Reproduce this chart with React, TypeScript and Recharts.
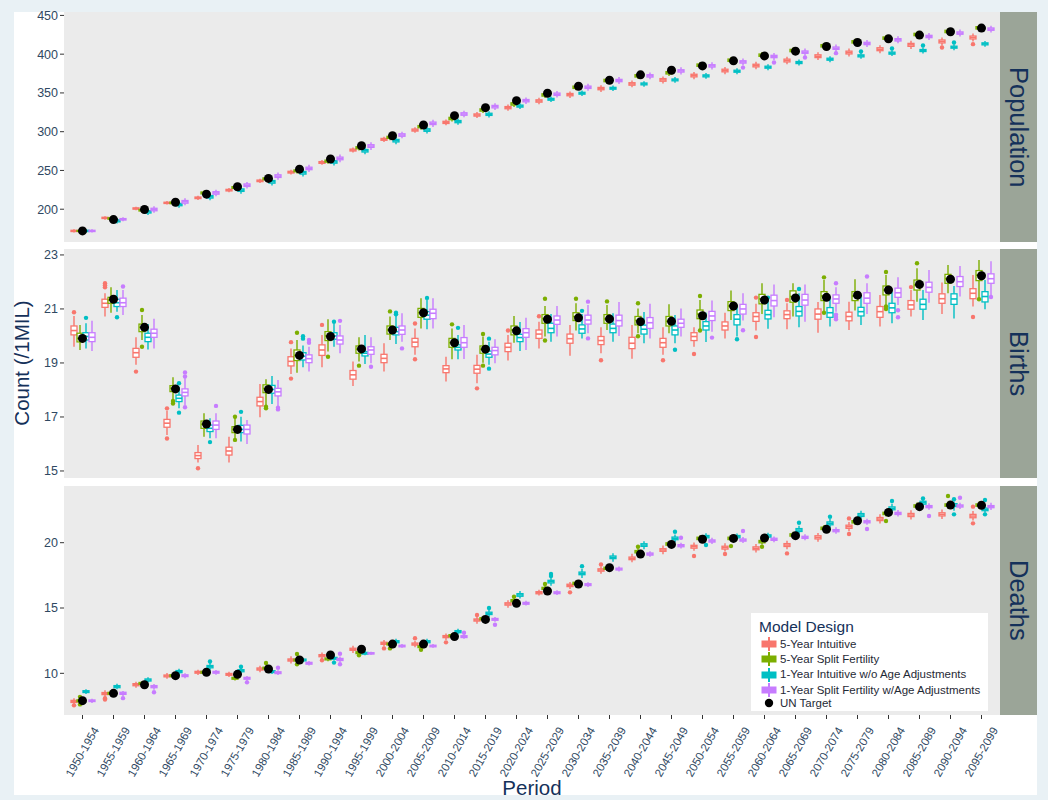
import React from 'react';
import { ComposedChart, Bar, Line, XAxis, YAxis } from 'recharts';

// Box statistics per period: [lower whisker, Q1, median, Q3, upper whisker]
type Box = [number, number, number, number, number];
// Outlier: [period index, value]
type Outlier = [number, number];

const periods = [
  '1950-1954', '1955-1959', '1960-1964', '1965-1969', '1970-1974', '1975-1979',
  '1980-1984', '1985-1989', '1990-1994', '1995-1999', '2000-2004', '2005-2009',
  '2010-2014', '2015-2019', '2020-2024', '2025-2029', '2030-2034', '2035-2039',
  '2040-2044', '2045-2049', '2050-2054', '2055-2059', '2060-2064', '2065-2069',
  '2070-2074', '2075-2079', '2080-2084', '2085-2089', '2090-2094', '2095-2099',
];

const modelNames = [
  '5-Year Intuitive',
  '5-Year Split Fertility',
  '1-Year Intuitive w/o Age Adjustments',
  '1-Year Split Fertility w/Age Adjustments',
];
const modelColors = ['#F8766D', '#7CAE00', '#00BFC4', '#C77CFF'];

// ---------------- Population ----------------
const popTarget = [172, 186.6, 199.6, 209, 219.4, 228.9, 239.7, 251.7, 264.7, 281.9, 294.8, 308.6, 320.7, 331, 340,
  349.6, 358.6, 366.4, 373.3, 379.3, 384.9, 391.4, 397.8, 403.9, 409.9, 415, 419.8, 424.6, 428.9, 433.6];

const popIntuitive5: Box[] = [
  [170, 171.2, 172, 172.8, 174], [186.5, 188, 188.8, 189.6, 191], [198.6, 200.1, 200.9, 201.7, 203.2],
  [206, 207.4, 208.2, 209, 210.5], [212, 213.7, 214.7, 215.7, 217.4], [221.8, 223.6, 224.6, 225.6, 227.4],
  [233.8, 235.6, 236.6, 237.6, 239.4], [244.8, 246.7, 247.8, 248.9, 250.8], [257.2, 259.2, 260.3, 261.4, 263.4],
  [273, 275.1, 276.3, 277.5, 279.6], [286.7, 288.9, 290.1, 291.3, 293.5], [298.6, 300.8, 302.1, 303.4, 305.6],
  [308.3, 310.6, 312, 313.4, 315.7], [317.7, 320.1, 321.5, 322.9, 325.3], [327, 329.6, 331, 332.4, 335],
  [335.5, 338.1, 339.6, 341.1, 343.7], [343.6, 346.3, 347.8, 349.3, 352], [351.3, 354.1, 355.6, 357.1, 359.9],
  [357.2, 360, 361.6, 363.2, 366], [362.3, 365.1, 366.8, 368.5, 371.3], [367.8, 370.7, 372.4, 374.1, 377],
  [374.2, 377.2, 378.9, 380.6, 383.6], [380.5, 383.6, 385.3, 387, 390.1], [386.9, 390, 391.8, 393.6, 396.7],
  [392.4, 395.6, 397.4, 399.2, 402.4], [397, 400.3, 402.1, 403.9, 407.2], [401.2, 404.5, 406.4, 408.3, 411.6],
  [406.8, 410.1, 412, 413.9, 417.2], [411.2, 414.5, 416.4, 418.3, 421.6], [416.3, 419.6, 421.5, 423.4, 426.7],
];
const popSplit5: Box[] = [
  [170.5, 171.4, 172, 172.6, 173.5], [185.5, 187.1, 188, 188.9, 190.5], [196, 197.7, 198.7, 199.7, 201.4],
  [205.5, 207.2, 208.2, 209.2, 210.9], [217.8, 219.8, 221, 222.2, 224.2], [225, 226.9, 228, 229.1, 231],
  [236, 238, 239.2, 240.4, 242.4], [246.2, 248.3, 249.5, 250.7, 252.8], [258.6, 260.7, 262, 263.3, 265.4],
  [275.8, 278, 279.3, 280.6, 282.8], [289, 291.4, 292.7, 294, 296.4], [302.6, 305.1, 306.5, 307.9, 310.4],
  [313, 315.5, 317, 318.5, 321], [324, 326.5, 328, 329.5, 332], [331.8, 334.3, 335.8, 337.3, 339.8],
  [343.4, 345.9, 347.4, 348.9, 351.4], [353.3, 355.8, 357.3, 358.8, 361.3], [362, 364.5, 366, 367.5, 370],
  [368, 370.5, 372, 373.5, 376], [372, 374.5, 376, 377.5, 380], [381.8, 384.3, 385.8, 387.3, 389.8],
  [388.2, 390.7, 392.2, 393.7, 396.2], [394.7, 397.2, 398.7, 400.2, 402.7], [400.7, 403.2, 404.7, 406.2, 408.7],
  [406.8, 409.3, 410.8, 412.3, 414.8], [411.9, 414.4, 415.9, 417.4, 419.9], [416.7, 419.2, 420.7, 422.2, 424.7],
  [421.4, 423.9, 425.4, 426.9, 429.4], [425.3, 427.8, 429.3, 430.8, 433.3], [430, 432.5, 434, 435.5, 438],
];
const popIntuitive1: Box[] = [
  [170, 171.2, 172, 172.8, 174], [181.5, 183.7, 185, 186.3, 188.5], [192.5, 195.1, 196.6, 198.1, 200.7],
  [201.8, 204.5, 206, 207.5, 210.2], [211.5, 214.4, 216, 217.6, 220.5], [220, 223, 224.6, 226.2, 229.2],
  [230.6, 233.6, 235.3, 237, 240], [242.2, 245.3, 247, 248.7, 251.8], [256.5, 259.4, 261, 262.6, 265.5],
  [270.8, 273.8, 275.4, 277, 280], [283.8, 286.8, 288.4, 290, 293], [297.6, 300.5, 302.1, 303.7, 306.6],
  [309, 311.6, 313, 314.4, 317], [318.4, 321, 322.4, 323.8, 326.4], [329.2, 331.7, 333, 334.3, 336.8],
  [338.2, 340.6, 341.8, 343, 345.4], [346, 348.4, 349.6, 350.8, 353.2], [352.4, 354.8, 356, 357.2, 359.6],
  [358, 360.4, 361.6, 362.8, 365.2], [363.2, 365.6, 366.8, 368, 370.4], [368.2, 370.7, 372, 373.3, 375.8],
  [374.2, 376.7, 378, 379.3, 381.8], [379.4, 381.9, 383.2, 384.5, 387], [385.4, 387.9, 389.2, 390.5, 393],
  [389.7, 392.2, 393.5, 394.8, 397.3], [394, 396.5, 397.8, 399.1, 401.6], [397.5, 400, 401.3, 402.6, 405.1],
  [400.9, 403.4, 404.7, 406, 408.5], [405.2, 407.7, 409, 410.3, 412.8], [409.5, 412, 413.3, 414.6, 417.1],
];
const popSplit1: Box[] = [
  [170, 171.2, 172, 172.8, 174], [184.5, 186.1, 187, 187.9, 189.5], [195.5, 198, 199.6, 201.2, 203.7],
  [205, 207.8, 209.5, 211.2, 214], [216.8, 219.4, 221, 222.6, 225.2], [226.8, 229.4, 231, 232.6, 235.2],
  [238, 241, 242.7, 244.4, 247.4], [248, 251, 252.6, 254.2, 257.2], [260.5, 263.8, 265.5, 267.2, 270.5],
  [276.5, 279.8, 281.5, 283.2, 286.5], [291.5, 294.1, 295.7, 297.3, 299.9], [306.2, 309.2, 310.8, 312.4, 315.4],
  [318.5, 321.2, 322.8, 324.4, 327.1], [328, 330.7, 332.3, 333.9, 336.6], [335.8, 338.5, 340, 341.5, 344.2],
  [344, 346.8, 348.3, 349.8, 352.6], [352.8, 355.8, 357.3, 358.8, 361.8], [361.5, 364.5, 366, 367.5, 370.5],
  [367.5, 370.5, 372, 373.5, 376.5], [373.8, 376.9, 378.4, 379.9, 383], [380.3, 383.4, 384.9, 386.4, 389.5],
  [385.5, 388.5, 390, 391.5, 394.5], [392.5, 395.5, 397, 398.5, 401.5], [398, 401.1, 402.6, 404.1, 407.2],
  [403, 406.2, 407.7, 409.2, 412.4], [409.2, 412.3, 413.8, 415.3, 418.4], [414, 417, 418.5, 420, 423],
  [418.2, 421.3, 422.8, 424.3, 427.4], [422.7, 425.7, 427.2, 428.7, 431.7], [427.8, 430.8, 432.3, 433.8, 436.8],
];
const popOutIntuitive5: Outlier[] = [[28, 408.6], [29, 412.9]];
const popOutSplit5: Outlier[] = [];
const popOutIntuitive1: Outlier[] = [[25, 403.4], [26, 407.3], [27, 411.2], [28, 415]];
const popOutSplit1: Outlier[] = [[21, 382.7], [22, 389.2], [23, 395.7], [24, 401.3]];

// ---------------- Births ----------------
const birthTarget = [19.91, 21.36, 20.32, 18.04, 16.74, 16.54, 18.02, 19.28, 19.98, 19.52, 20.22, 20.86, 19.75, 19.51,
  20.19, 20.62, 20.67, 20.63, 20.53, 20.54, 20.75, 21.11, 21.33, 21.41, 21.43, 21.51, 21.7, 21.91, 22.1, 22.23];

const birthIntuitive5: Box[] = [
  [19.6, 20.04, 20.2, 20.37, 20.74], [20.72, 21.06, 21.21, 21.36, 21.58], [18.93, 19.21, 19.38, 19.54, 19.95],
  [16.33, 16.62, 16.77, 16.91, 17.23], [15.31, 15.46, 15.57, 15.68, 15.96], [15.31, 15.59, 15.74, 15.88, 16.27],
  [16.99, 17.41, 17.57, 17.73, 18.22], [18.59, 18.89, 19.06, 19.23, 19.54], [18.84, 19.28, 19.48, 19.67, 20.04],
  [18.15, 18.4, 18.56, 18.72, 19.05], [18.68, 19.01, 19.17, 19.32, 19.73], [19.3, 19.6, 19.77, 19.91, 20.28],
  [18.31, 18.64, 18.78, 18.9, 19.23], [18.25, 18.62, 18.77, 18.91, 19.3], [19.09, 19.42, 19.58, 19.73, 20.04],
  [19.54, 19.91, 20.07, 20.22, 20.53], [19.27, 19.73, 19.9, 20.07, 20.41], [19.36, 19.68, 19.83, 19.98, 20.32],
  [19.16, 19.53, 19.73, 19.95, 20.41], [19.3, 19.58, 19.75, 19.91, 20.32], [19.6, 19.83, 19.98, 20.12, 20.32],
  [19.91, 20.22, 20.37, 20.52, 20.86], [20.2, 20.54, 20.72, 20.86, 21.19], [20.25, 20.64, 20.79, 20.93, 21.21],
  [20.12, 20.62, 20.81, 21.0, 21.26], [20.22, 20.56, 20.72, 20.88, 21.27], [20.35, 20.69, 20.9, 21.09, 21.52],
  [20.72, 20.99, 21.15, 21.31, 21.7], [20.81, 21.21, 21.38, 21.56, 21.98], [21.09, 21.38, 21.58, 21.75, 22.26],
];
const birthSplit5: Box[] = [
  [19.48, 19.78, 19.91, 20.1, 20.41], [20.86, 21.21, 21.33, 21.43, 21.8], [19.85, 20.16, 20.32, 20.44, 20.78],
  [17.65, 17.94, 18.06, 18.16, 18.47], [16.27, 16.58, 16.73, 16.85, 17.14], [16.21, 16.42, 16.54, 16.64, 16.99],
  [17.44, 17.9, 18.05, 18.19, 18.4], [18.64, 19.09, 19.28, 19.48, 19.85], [19.42, 19.83, 20.0, 20.16, 20.62],
  [19.05, 19.36, 19.51, 19.63, 19.95], [19.85, 20.07, 20.22, 20.37, 20.72], [20.28, 20.69, 20.86, 21.02, 21.4],
  [19.14, 19.58, 19.75, 19.91, 20.28], [19.01, 19.36, 19.51, 19.63, 19.98], [19.75, 20.04, 20.22, 20.37, 20.74],
  [19.98, 20.47, 20.64, 20.79, 21.11], [20.2, 20.57, 20.72, 20.86, 21.21], [20.22, 20.47, 20.63, 20.79, 21.15],
  [20.1, 20.41, 20.57, 20.72, 21.02], [20.1, 20.37, 20.54, 20.72, 21.17], [20.22, 20.64, 20.81, 20.96, 21.33],
  [20.59, 20.94, 21.11, 21.27, 21.68], [20.81, 21.19, 21.37, 21.54, 21.95], [20.72, 21.25, 21.46, 21.67, 21.95],
  [20.9, 21.31, 21.48, 21.64, 22.07], [20.94, 21.31, 21.48, 21.64, 22.1], [21.15, 21.52, 21.7, 21.85, 22.26],
  [21.27, 21.7, 21.89, 22.07, 22.51], [21.58, 21.95, 22.12, 22.28, 22.63], [21.4, 22.05, 22.25, 22.42, 22.81],
];
const birthIntuitive1: Box[] = [
  [19.54, 19.85, 19.98, 20.12, 20.47], [20.9, 21.09, 21.23, 21.36, 21.7], [19.5, 19.79, 19.95, 20.1, 20.44],
  [17.32, 17.57, 17.69, 17.81, 18.12], [16.21, 16.46, 16.58, 16.7, 16.95], [16.09, 16.42, 16.54, 16.69, 17.01],
  [17.48, 17.88, 18.02, 18.17, 18.52], [18.84, 19.11, 19.25, 19.38, 19.65], [19.6, 19.88, 20.0, 20.12, 20.57],
  [18.96, 19.26, 19.36, 19.42, 20.04], [19.7, 20.04, 20.16, 20.32, 20.74], [20.25, 20.62, 20.77, 20.9, 21.33],
  [19.14, 19.48, 19.58, 19.67, 20.04], [18.93, 19.21, 19.33, 19.44, 19.79], [19.44, 19.79, 19.94, 20.06, 20.52],
  [19.79, 20.12, 20.28, 20.47, 20.81], [19.91, 20.1, 20.26, 20.41, 20.81], [19.79, 20.12, 20.28, 20.44, 20.84],
  [19.73, 20.07, 20.25, 20.4, 20.89], [19.73, 20.04, 20.22, 20.37, 20.78], [19.78, 20.22, 20.37, 20.53, 20.86],
  [19.98, 20.41, 20.62, 20.79, 21.15], [20.27, 20.63, 20.79, 20.95, 21.4], [20.32, 20.74, 20.91, 21.09, 21.58],
  [20.35, 20.69, 20.86, 21.05, 21.46], [20.41, 20.74, 20.9, 21.06, 21.52], [20.47, 20.86, 21.04, 21.21, 21.64],
  [20.59, 20.99, 21.17, 21.36, 21.7], [20.65, 21.17, 21.37, 21.56, 21.85], [20.99, 21.26, 21.46, 21.64, 22.07],
];
const birthSplit1: Box[] = [
  [19.44, 19.79, 19.95, 20.12, 20.56], [20.78, 21.09, 21.23, 21.4, 21.7], [19.54, 19.95, 20.1, 20.25, 20.64],
  [17.44, 17.78, 17.91, 18.04, 18.43], [16.21, 16.54, 16.7, 16.85, 17.14], [16.0, 16.37, 16.54, 16.7, 16.89],
  [17.38, 17.78, 17.93, 18.06, 18.37], [18.68, 19.01, 19.16, 19.3, 19.6], [19.36, 19.7, 19.85, 20.0, 20.41],
  [18.99, 19.32, 19.48, 19.6, 19.95], [19.79, 20.06, 20.22, 20.37, 20.84], [20.28, 20.64, 20.84, 20.99, 21.4],
  [19.15, 19.58, 19.75, 19.94, 20.41], [18.99, 19.3, 19.46, 19.58, 19.88], [19.48, 19.95, 20.12, 20.27, 20.67],
  [19.98, 20.43, 20.59, 20.74, 21.11], [20.1, 20.44, 20.59, 20.77, 21.15], [20.0, 20.37, 20.57, 20.77, 21.26],
  [19.91, 20.28, 20.49, 20.68, 21.19], [19.98, 20.32, 20.47, 20.62, 21.02], [20.16, 20.57, 20.74, 20.91, 21.31],
  [20.57, 20.81, 21.0, 21.17, 21.58], [20.69, 21.11, 21.31, 21.51, 21.91], [20.53, 21.14, 21.33, 21.54, 21.91],
  [20.9, 21.21, 21.37, 21.52, 21.8], [20.81, 21.21, 21.4, 21.6, 21.95], [21.15, 21.43, 21.6, 21.77, 22.17],
  [21.23, 21.62, 21.8, 21.99, 22.44], [21.46, 21.83, 22.01, 22.2, 22.59], [21.52, 21.95, 22.12, 22.3, 22.77],
];
const birthOutIntuitive5: Outlier[] = [[0, 20.88], [1, 21.95], [1, 21.88], [1, 21.8], [2, 18.68], [3, 17.32], [3, 16.2],
  [4, 15.1], [7, 19.77], [7, 18.42], [8, 20.41], [11, 20.46], [11, 19.14], [13, 18.06], [14, 20.2], [15, 20.73],
  [17, 19.1], [19, 19.1], [20, 19.33], [22, 21.42], [22, 19.96], [23, 21.33], [27, 21.81], [29, 20.7]];
const birthOutSplit5: Outlier[] = [[2, 20.96], [2, 19.6], [3, 17.59], [3, 17.5], [5, 17.01], [5, 16.15], [6, 17.38],
  [6, 17.32], [7, 20.12], [8, 19.23], [9, 18.9], [10, 20.91], [12, 20.43], [13, 20.07], [13, 18.9], [15, 21.38],
  [15, 19.83], [16, 21.38], [17, 21.28], [18, 21.21], [18, 19.99], [20, 21.48], [20, 20.2], [24, 22.17], [24, 20.86],
  [26, 22.37], [26, 21.09], [26, 21.0], [27, 22.69], [29, 21.36]];
const birthOutIntuitive1: Outlier[] = [[0, 20.67], [1, 20.69], [3, 18.25], [3, 17.16], [4, 16.07], [5, 17.19], [7, 19.99],
  [7, 19.9], [8, 20.53], [10, 20.86], [10, 20.8], [11, 21.41], [12, 20.3], [13, 19.9], [13, 18.79], [16, 20.93],
  [19, 19.49], [21, 19.88], [22, 21.42], [23, 21.74]];
const birthOutSplit1: Outlier[] = [[1, 21.83], [3, 18.65], [3, 18.5], [3, 17.36], [4, 17.41], [6, 17.34], [6, 17.28],
  [7, 19.85], [7, 19.75], [8, 20.56], [9, 18.86], [10, 19.54], [16, 21.27], [16, 19.91], [20, 19.94], [21, 20.21],
  [24, 21.95], [24, 20.79], [24, 20.7], [24, 20.62], [25, 22.2], [26, 20.95], [26, 20.69], [29, 21.44]];

// ---------------- Deaths ----------------
const deathTarget = [7.91, 8.47, 9.13, 9.82, 10.08, 9.92, 10.33, 11.02, 11.4, 11.84, 12.24, 12.24, 12.81, 14.13, 15.36,
  16.3, 16.84, 18.09, 19.13, 19.87, 20.26, 20.33, 20.36, 20.54, 21.02, 21.68, 22.32, 22.76, 22.88, 22.86];

const deathIntuitive5: Box[] = [
  [7.65, 7.77, 7.85, 7.93, 8.1], [8.2, 8.37, 8.45, 8.53, 8.7], [8.9, 9.05, 9.13, 9.21, 9.35],
  [9.58, 9.73, 9.8, 9.87, 10.02], [9.88, 10.01, 10.08, 10.15, 10.28], [9.72, 9.85, 9.92, 9.99, 10.12],
  [10.08, 10.25, 10.33, 10.41, 10.58], [10.75, 10.94, 11.02, 11.1, 11.3], [11.1, 11.27, 11.35, 11.43, 11.6],
  [11.55, 11.76, 11.84, 11.92, 12.12], [12.05, 12.22, 12.3, 12.38, 12.55], [12.0, 12.16, 12.24, 12.32, 12.48],
  [12.55, 12.73, 12.81, 12.89, 13.05], [13.8, 14.0, 14.08, 14.16, 14.36], [15.02, 15.22, 15.31, 15.4, 15.6],
  [15.95, 16.09, 16.17, 16.25, 16.4], [16.45, 16.64, 16.73, 16.82, 17.0], [17.62, 17.82, 17.91, 18.0, 18.2],
  [18.5, 18.7, 18.8, 18.9, 19.15], [19.12, 19.34, 19.44, 19.54, 19.78], [19.38, 19.58, 19.69, 19.8, 20.02],
  [19.32, 19.51, 19.62, 19.73, 19.95], [19.25, 19.46, 19.57, 19.68, 19.9], [19.5, 19.71, 19.82, 19.93, 20.15],
  [20.08, 20.29, 20.41, 20.53, 20.75], [20.88, 21.1, 21.22, 21.34, 21.58], [21.46, 21.69, 21.81, 21.93, 22.18],
  [21.78, 22.0, 22.12, 22.24, 22.48], [21.82, 22.05, 22.17, 22.29, 22.55], [21.7, 21.91, 22.04, 22.17, 22.42],
];
const deathSplit5: Box[] = [
  [7.72, 7.83, 7.9, 7.97, 8.08], [8.28, 8.4, 8.47, 8.54, 8.66], [9.05, 9.16, 9.23, 9.3, 9.42],
  [9.62, 9.75, 9.82, 9.89, 10.02], [9.9, 10.01, 10.08, 10.15, 10.26], [9.45, 9.55, 9.62, 9.69, 9.8],
  [10.2, 10.33, 10.4, 10.47, 10.6], [10.85, 10.95, 11.02, 11.09, 11.2], [10.92, 11.03, 11.1, 11.17, 11.28],
  [11.45, 11.51, 11.58, 11.65, 11.76], [12.08, 12.17, 12.24, 12.31, 12.42], [11.9, 11.97, 12.04, 12.11, 12.22],
  [12.7, 12.8, 12.88, 12.96, 13.08], [13.98, 14.1, 14.18, 14.26, 14.4], [15.38, 15.48, 15.56, 15.64, 15.76],
  [16.3, 16.42, 16.5, 16.58, 16.72], [16.68, 16.81, 16.89, 16.97, 17.1], [17.84, 17.96, 18.04, 18.12, 18.26],
  [19.1, 19.22, 19.31, 19.4, 19.55], [19.68, 19.81, 19.9, 19.99, 20.14], [20.1, 20.24, 20.33, 20.42, 20.58],
  [20.1, 20.24, 20.33, 20.42, 20.58], [19.86, 19.99, 20.08, 20.17, 20.32], [20.36, 20.5, 20.59, 20.68, 20.84],
  [20.86, 21.01, 21.1, 21.19, 21.36], [21.36, 21.51, 21.6, 21.69, 21.86], [22.0, 22.15, 22.24, 22.33, 22.5],
  [22.56, 22.72, 22.81, 22.9, 23.08], [22.62, 22.79, 22.88, 22.97, 23.15], [22.62, 22.79, 22.88, 22.97, 23.15],
];
const deathIntuitive1: Box[] = [
  [8.42, 8.53, 8.6, 8.67, 8.78], [8.78, 8.9, 8.98, 9.06, 9.2], [9.3, 9.41, 9.49, 9.57, 9.7],
  [9.9, 10.05, 10.13, 10.21, 10.36], [10.22, 10.42, 10.5, 10.6, 10.8], [9.95, 10.12, 10.2, 10.28, 10.42],
  [9.95, 10.06, 10.13, 10.2, 10.32], [10.85, 10.95, 11.02, 11.09, 11.2], [10.98, 11.08, 11.15, 11.22, 11.34],
  [11.38, 11.47, 11.53, 11.6, 11.7], [12.22, 12.34, 12.42, 12.5, 12.64], [12.22, 12.34, 12.42, 12.5, 12.64],
  [12.98, 13.11, 13.19, 13.27, 13.42], [14.3, 14.5, 14.59, 14.68, 14.85], [15.72, 15.9, 16.0, 16.1, 16.3],
  [16.7, 16.92, 17.02, 17.12, 17.3], [17.3, 17.55, 17.65, 17.75, 17.98], [18.55, 18.78, 18.88, 18.98, 19.2],
  [19.5, 19.72, 19.82, 19.92, 20.12], [20.02, 20.23, 20.33, 20.43, 20.62], [20.2, 20.37, 20.46, 20.55, 20.72],
  [20.22, 20.37, 20.46, 20.55, 20.7], [20.28, 20.42, 20.51, 20.6, 20.76], [20.65, 20.86, 20.97, 21.08, 21.3],
  [21.12, 21.37, 21.48, 21.59, 21.82], [21.8, 22.01, 22.12, 22.23, 22.45], [22.28, 22.52, 22.63, 22.74, 22.98],
  [22.72, 22.95, 23.06, 23.17, 23.32], [22.45, 22.77, 22.88, 22.99, 23.15], [22.3, 22.45, 22.55, 22.65, 22.95],
];
const deathSplit1: Box[] = [
  [7.72, 7.84, 7.9, 7.96, 8.06], [8.25, 8.39, 8.47, 8.55, 8.65], [8.75, 8.9, 8.98, 9.06, 9.18],
  [9.62, 9.75, 9.82, 9.89, 10.0], [9.9, 10.01, 10.08, 10.15, 10.25], [9.42, 9.55, 9.62, 9.69, 9.8],
  [9.88, 9.98, 10.05, 10.12, 10.24], [10.6, 10.7, 10.77, 10.84, 10.95], [10.85, 10.98, 11.07, 11.14, 11.28],
  [11.42, 11.48, 11.53, 11.58, 11.66], [11.96, 12.03, 12.09, 12.15, 12.24], [11.96, 12.03, 12.09, 12.15, 12.24],
  [12.65, 12.74, 12.81, 12.88, 12.98], [13.95, 14.06, 14.13, 14.2, 14.32], [15.2, 15.29, 15.36, 15.43, 15.55],
  [16.0, 16.1, 16.17, 16.24, 16.36], [16.6, 16.72, 16.79, 16.86, 16.98], [17.8, 17.91, 17.98, 18.05, 18.18],
  [18.92, 19.05, 19.13, 19.21, 19.35], [19.55, 19.69, 19.77, 19.85, 20.0], [19.9, 20.05, 20.13, 20.21, 20.38],
  [19.98, 20.12, 20.2, 20.28, 20.44], [20.04, 20.18, 20.26, 20.34, 20.48], [20.18, 20.33, 20.41, 20.49, 20.65],
  [20.68, 20.84, 20.92, 21.0, 21.18], [21.38, 21.52, 21.6, 21.68, 21.84], [22.0, 22.16, 22.24, 22.32, 22.5],
  [22.52, 22.68, 22.76, 22.84, 23.02], [22.58, 22.73, 22.81, 22.89, 23.06], [22.5, 22.68, 22.76, 22.84, 23.05],
];
const deathOutIntuitive5: Outlier[] = [[0, 7.55], [1, 8.0], [1, 8.1], [8, 11.0], [10, 11.91], [11, 12.68], [12, 12.37],
  [13, 14.46], [16, 16.2], [17, 18.34], [20, 18.98], [21, 19.13], [23, 19.18], [25, 21.86], [25, 20.66], [29, 22.76],
  [29, 21.48]];
const deathOutSplit5: Outlier[] = [[0, 8.2], [0, 7.62], [6, 10.79], [7, 11.48], [7, 10.69], [9, 11.38], [10, 11.91],
  [11, 11.8], [14, 15.87], [15, 16.84], [18, 19.69], [21, 19.74], [22, 19.69], [26, 21.66], [28, 23.57]];
const deathOutIntuitive1: Outlier[] = [[4, 10.9], [5, 10.5], [8, 10.82], [13, 15.0], [15, 17.6], [15, 17.45], [16, 18.2],
  [19, 20.84], [20, 19.82], [23, 21.53], [24, 21.99], [26, 23.19], [27, 23.39], [28, 23.32], [28, 22.17], [29, 23.27],
  [29, 22.17]];
const deathOutSplit1: Outlier[] = [[1, 8.1], [2, 8.55], [5, 9.31], [6, 10.43], [8, 11.5], [8, 10.69], [12, 13.11],
  [13, 13.72], [19, 20.38], [21, 20.89], [25, 21.05], [27, 22.04], [28, 23.44]];

// ---------------- styling ----------------
const FONT = '"Liberation Sans", Arial, Helvetica, sans-serif';
const TICK_COLOR = '#2f4862';
const TITLE_COLOR = '#15315a';
const PANEL_BG = '#EBEBEB';
const STRIP_BG = '#9ba598';

function buildRows(stats: Box[][], outs: Outlier[][], target: number[]) {
  return periods.map((period, i) => {
    const row: Record<string, unknown> = { period, target: target[i] };
    stats.forEach((s, m) => {
      row[`r${m}`] = [s[i][0], s[i][4]];
      row[`s${m}`] = s[i];
      row[`o${m}`] = outs[m].filter((o) => o[0] === i).map((o) => o[1]);
    });
    return row;
  });
}

const popRows = buildRows(
  [popIntuitive5, popSplit5, popIntuitive1, popSplit1],
  [popOutIntuitive5, popOutSplit5, popOutIntuitive1, popOutSplit1],
  popTarget,
);
const birthRows = buildRows(
  [birthIntuitive5, birthSplit5, birthIntuitive1, birthSplit1],
  [birthOutIntuitive5, birthOutSplit5, birthOutIntuitive1, birthOutSplit1],
  birthTarget,
);
const deathRows = buildRows(
  [deathIntuitive5, deathSplit5, deathIntuitive1, deathSplit1],
  [deathOutIntuitive5, deathOutSplit5, deathOutIntuitive1, deathOutSplit1],
  deathTarget,
);

// Draws one box-and-whisker glyph. The bar rectangle spans the whisker range
// (lower..upper), which gives the value-to-pixel mapping for the other stats.
function BoxGlyph(props: any) {
  const { x, y, width, height, payload, m } = props;
  const s: Box = payload[`s${m}`];
  const outs: number[] = payload[`o${m}`] || [];
  const [lo, q1, med, q3, hi] = s;
  const top = Math.min(y, y + height);
  const h = Math.abs(height);
  const span = hi - lo;
  const py = (v: number) => top + ((hi - v) * h) / span;
  const color = modelColors[m];
  const cx = x + width / 2;
  const yQ3 = py(q3);
  const yQ1 = py(q1);
  return (
    <g>
      <line x1={cx} x2={cx} y1={py(hi)} y2={yQ3} stroke={color} strokeWidth={1.4} />
      <line x1={cx} x2={cx} y1={yQ1} y2={py(lo)} stroke={color} strokeWidth={1.4} />
      <rect x={x} y={yQ3} width={width} height={Math.max(yQ1 - yQ3, 0.5)} fill="#ffffff" stroke={color} strokeWidth={1.3} />
      <line x1={x} x2={x + width} y1={py(med)} y2={py(med)} stroke={color} strokeWidth={1.6} />
      {outs.map((v, k) => (
        <circle key={k} cx={cx} cy={py(v)} r={2.2} fill={color} />
      ))}
    </g>
  );
}

function PeriodTick(props: any) {
  const { x, y, payload } = props;
  const ax = x + 17;
  const ay = y + 9;
  return (
    <text
      x={ax}
      y={ay}
      textAnchor="end"
      fontSize={11.5}
      fill={TICK_COLOR}
      fontFamily={FONT}
      transform={`rotate(-60 ${ax} ${ay})`}
    >
      {payload.value}
    </text>
  );
}

interface PanelProps {
  rows: Record<string, unknown>[];
  top: number;
  height: number;
  margin: { top: number; bottom: number };
  domain: [number, number];
  ticks: number[];
  showX: boolean;
}

function Panel({ rows, top, height, margin, domain, ticks, showX }: PanelProps) {
  return (
    <div style={{ position: 'absolute', left: 0, top }}>
      <ComposedChart
        width={1000}
        height={height}
        data={rows}
        margin={{ top: margin.top, right: 0, bottom: margin.bottom, left: 0 }}
        barGap={0}
      >
        <XAxis
          dataKey="period"
          type="category"
          hide={!showX}
          interval={0}
          padding={{ left: 3, right: 3 }}
          axisLine={false}
          tickSize={4}
          tickLine={{ stroke: '#333333' }}
          tick={<PeriodTick />}
          height={80}
        />
        <YAxis
          type="number"
          domain={domain}
          ticks={ticks}
          allowDataOverflow
          interval={0}
          width={64}
          axisLine={false}
          tickSize={4}
          tickMargin={2}
          tickLine={{ stroke: '#333333' }}
          tick={{ fontSize: 12.5, fill: TICK_COLOR, fontFamily: FONT }}
        />
        {modelNames.map((name, m) => (
          <Bar
            key={name}
            name={name}
            dataKey={`r${m}`}
            barSize={6}
            fill={modelColors[m]}
            isAnimationActive={false}
            shape={(p: any) => <BoxGlyph {...p} m={m} />}
          />
        ))}
        <Line
          dataKey="target"
          name="UN Target"
          stroke="none"
          isAnimationActive={false}
          activeDot={false}
          dot={{ r: 4.5, fill: '#000000', stroke: '#000000', strokeWidth: 0 }}
        />
      </ComposedChart>
    </div>
  );
}

const panelBoxes = [
  { label: 'Population', top: 12, height: 230 },
  { label: 'Births', top: 249, height: 229 },
  { label: 'Deaths', top: 486, height: 229 },
];

function KeyGlyph({ color }: { color: string }) {
  return (
    <svg width={18} height={14} style={{ position: 'absolute', left: 9, top: 0.5 }}>
      <line x1={9} x2={9} y1={0} y2={14} stroke={color} strokeWidth={2} />
      <rect x={1.5} y={3.5} width={15} height={7} fill={color} />
    </svg>
  );
}

function LegendBox() {
  const rowTops = [23.6, 38.9, 54.3, 69.6];
  return (
    <div
      style={{
        position: 'absolute',
        left: 751,
        top: 613,
        width: 237,
        height: 98,
        background: '#ffffff',
        fontFamily: FONT,
      }}
    >
      <div style={{ position: 'absolute', left: 8, top: 5.5, fontSize: 15.5, lineHeight: '15.5px', color: TITLE_COLOR, whiteSpace: 'nowrap' }}>
        Model Design
      </div>
      {modelNames.map((name, m) => (
        <div key={name} style={{ position: 'absolute', left: 0, top: rowTops[m], width: 237, height: 15 }}>
          <KeyGlyph color={modelColors[m]} />
          <div style={{ position: 'absolute', left: 29, top: 0, fontSize: 11.5, lineHeight: '15px', color: '#1f2a36', whiteSpace: 'nowrap' }}>
            {name}
          </div>
        </div>
      ))}
      <div style={{ position: 'absolute', left: 0, top: 82.9, width: 237, height: 15 }}>
        <svg width={18} height={14} style={{ position: 'absolute', left: 9, top: 0.5 }}>
          <circle cx={9} cy={7} r={4.2} fill="#000000" />
        </svg>
        <div style={{ position: 'absolute', left: 29, top: 0, fontSize: 11.5, lineHeight: '15px', color: '#1f2a36', whiteSpace: 'nowrap' }}>
          UN Target
        </div>
      </div>
    </div>
  );
}

export default function App() {
  return (
    <div
      style={{
        position: 'absolute',
        left: 0,
        top: 0,
        width: 1048,
        height: 800,
        background: '#e9f1f5',
        fontFamily: FONT,
        overflow: 'hidden',
      }}
    >
      <div style={{ position: 'absolute', left: 14, top: 12, width: 1023, height: 783, background: '#ffffff' }} />
      {panelBoxes.map((p) => (
        <React.Fragment key={p.label}>
          <div style={{ position: 'absolute', left: 64, top: p.top, width: 936, height: p.height, background: PANEL_BG }} />
          <div
            style={{
              position: 'absolute',
              left: 1000,
              top: p.top,
              width: 37,
              height: p.height,
              background: STRIP_BG,
              display: 'flex',
              alignItems: 'center',
              justifyContent: 'center',
            }}
          >
            <span style={{ writingMode: 'vertical-rl', fontSize: 25.5, color: TITLE_COLOR, lineHeight: 1 }}>{p.label}</span>
          </div>
        </React.Fragment>
      ))}

      <Panel rows={popRows} top={0} height={250} margin={{ top: 12, bottom: 8 }} domain={[157.7, 454.4]}
        ticks={[200, 250, 300, 350, 400, 450]} showX={false} />
      <Panel rows={birthRows} top={240} height={245} margin={{ top: 9, bottom: 7 }} domain={[14.74, 23.22]}
        ticks={[15, 17, 19, 21, 23]} showX={false} />
      <Panel rows={deathRows} top={480} height={320} margin={{ top: 6, bottom: 5 }} domain={[6.81, 24.34]}
        ticks={[10, 15, 20]} showX />

      <LegendBox />

      <div
        style={{
          position: 'absolute',
          left: 22,
          top: 363,
          transform: 'translate(-50%, -50%) rotate(-90deg)',
          fontSize: 20.5,
          color: TITLE_COLOR,
          whiteSpace: 'nowrap',
          lineHeight: 1,
        }}
      >
        Count (/1MIL)
      </div>
      <div
        style={{
          position: 'absolute',
          left: 532,
          top: 788,
          transform: 'translate(-50%, -50%)',
          fontSize: 20.5,
          color: TITLE_COLOR,
          whiteSpace: 'nowrap',
          lineHeight: 1,
        }}
      >
        Period
      </div>
    </div>
  );
}
